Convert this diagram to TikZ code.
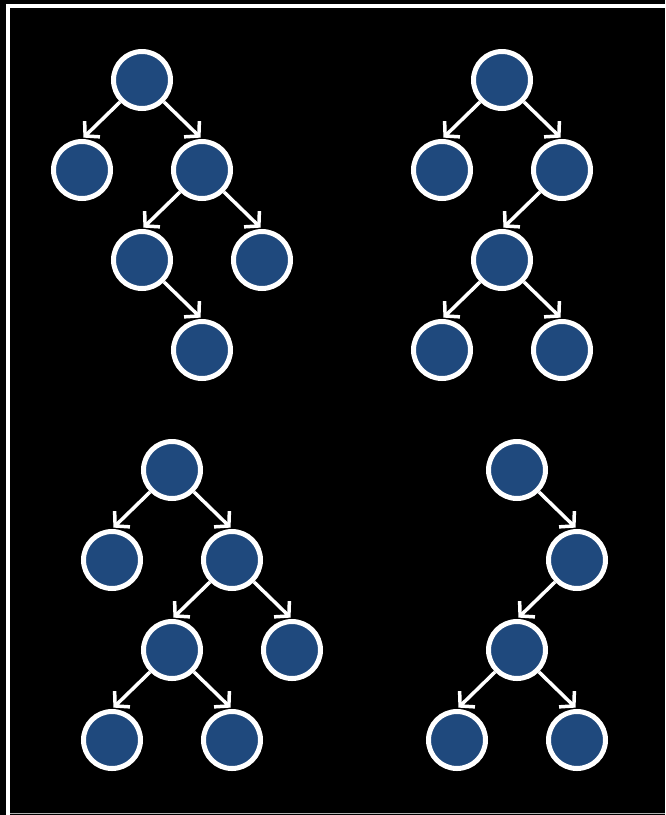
\documentclass[tikz,border=0pt]{standalone}
\usepackage{tikz}
\usetikzlibrary{positioning,arrows.meta}
\definecolor{ink}    {HTML}{000000}
\definecolor{navy}   {HTML}{1F497D}
\definecolor{frame}  {HTML}{FFFFFF}
\tikzset{
  % --- nodes
  vtx/.style  = {circle, draw=frame, fill=navy, line width=5pt,
                 minimum size=57pt, inner sep=0pt},
  % --- edges
  e/.style    = {-{Straight Barb[length=10pt,width=22pt,line width=3.5pt]},
                 line width=3.5pt, draw=frame, shorten >=2pt},
}
% parent -> left / right child
\newcommand{\lft}[2]{\draw[e] (#1.-135) -- (#2.north);}
\newcommand{\rgt}[2]{\draw[e] (#1.-45) -- (#2.north);}
\begin{document}
\begin{tikzpicture}[x=1pt,y=-1pt, node distance=90pt and 60pt, on grid]
  \fill[ink] (0,0) rectangle (665,815);
  \useasboundingbox (0,0) rectangle (665,815);
  \draw[frame, line width=4pt] (7.5,815) -- (7.5,5.5) -- (665,5.5);
  \draw[frame!70!black, line width=1pt] (10,813) -- (665,813);

  % top left
  \node[vtx] (a1) at (142,80) {};
  \node[vtx, below left=of a1]  (a2) {};
  \node[vtx, below right=of a1] (a3) {};
  \node[vtx, below left=of a3]  (a4) {};
  \node[vtx, below right=of a3] (a5) {};
  \node[vtx, below right=of a4] (a6) {};
  \lft{a1}{a2} \rgt{a1}{a3} \lft{a3}{a4} \rgt{a3}{a5} \rgt{a4}{a6}

  % top right
  \node[vtx] (b1) at (502,80) {};
  \node[vtx, below left=of b1]  (b2) {};
  \node[vtx, below right=of b1] (b3) {};
  \node[vtx, below left=of b3]  (b4) {};
  \node[vtx, below left=of b4]  (b5) {};
  \node[vtx, below right=of b4] (b6) {};
  \lft{b1}{b2} \rgt{b1}{b3} \lft{b3}{b4} \lft{b4}{b5} \rgt{b4}{b6}

  % bottom left
  \node[vtx] (c1) at (172,470) {};
  \node[vtx, below left=of c1]  (c2) {};
  \node[vtx, below right=of c1] (c3) {};
  \node[vtx, below left=of c3]  (c4) {};
  \node[vtx, below right=of c3] (c5) {};
  \node[vtx, below left=of c4]  (c6) {};
  \node[vtx, below right=of c4] (c7) {};
  \lft{c1}{c2} \rgt{c1}{c3} \lft{c3}{c4} \rgt{c3}{c5} \lft{c4}{c6} \rgt{c4}{c7}

  % bottom right
  \node[vtx] (d1) at (517,470) {};
  \node[vtx, below right=of d1] (d2) {};
  \node[vtx, below left=of d2]  (d3) {};
  \node[vtx, below left=of d3]  (d4) {};
  \node[vtx, below right=of d3] (d5) {};
  \rgt{d1}{d2} \lft{d2}{d3} \lft{d3}{d4} \rgt{d3}{d5}
\end{tikzpicture}
\end{document}
